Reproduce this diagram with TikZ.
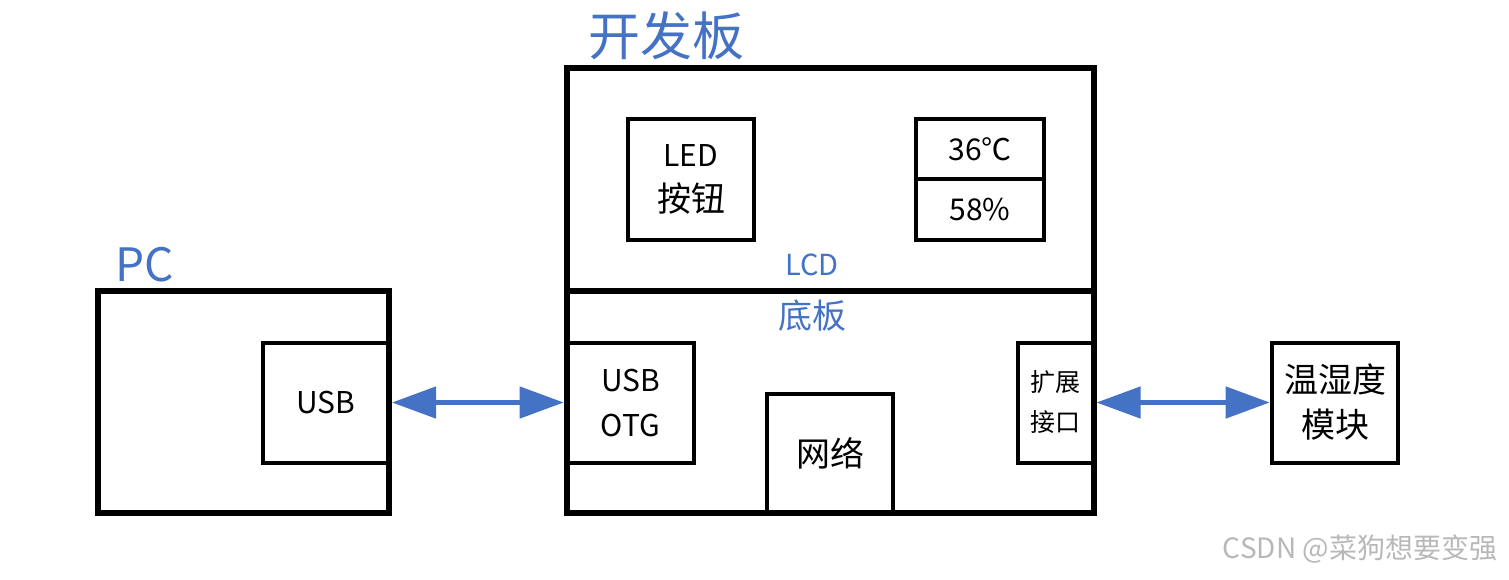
\documentclass[tikz,border=0pt]{standalone}
\usepackage{fontspec}
\setmainfont{Noto Sans CJK SC}
\usetikzlibrary{arrows.meta}
\definecolor{myblue}{HTML}{4472C4}
\begin{document}
\begin{tikzpicture}[x=1pt,y=-1pt,
  outerbox/.style={draw=black, line width=6pt, inner sep=0pt, outer sep=0pt, rectangle},
  innerbox/.style={draw=black, line width=4pt, inner sep=0pt, outer sep=0pt, rectangle, align=center},
  bluelbl/.style={text=myblue, inner sep=0pt},
  cjk/.style={font=\fontsize{34}{45}\selectfont},
  lat/.style={font=\fontsize{30}{45}\selectfont},
  twoway/.style={draw=myblue, line width=4.5pt, {Triangle[length=44pt,width=31pt]}-{Triangle[length=44pt,width=31pt]}}
]
\path[use as bounding box] (0,0) rectangle (1509,579);

% titles
\node[bluelbl, font=\fontsize{52}{60}\selectfont] (ttl) at (666,36) {开发板};
\node[bluelbl, font=\fontsize{46}{50}\selectfont] (pclbl) at (145,265) {PC};

% PC
\node[outerbox, minimum width=291.5pt, minimum height=222pt] (pc) at (243.25,402) {};
\node[innerbox, lat, minimum width=126pt, minimum height=120pt] (pcusb) at (326,402.5) {USB};

% board
\node[outerbox, minimum width=526.8pt, minimum height=222.8pt] (lcd) at (830.1,179.6) {};
\node[outerbox, minimum width=526.8pt, minimum height=222.3pt] (base) at (830.1,402.15) {};
\node[bluelbl, font=\fontsize{29}{32}\selectfont] (lcdlbl) at (812,265) {LCD};
\node[bluelbl, font=\fontsize{34}{40}\selectfont] (baselbl) at (812,316) {底板};

\node[innerbox, cjk, minimum width=126pt, minimum height=120.5pt] (led) at (691,179.3)
  {{\fontsize{30}{45}\selectfont LED}\\按钮};
\node[innerbox, lat, minimum width=128pt, minimum height=60.3pt] (temp) at (980,149.2) {36℃};
\node[innerbox, lat, minimum width=128pt, minimum height=60.3pt] (hum) at (980,209.4) {58\%};

\node[innerbox, lat, minimum width=127.6pt, minimum height=120pt] (otg) at (630.5,402.5) {USB\\OTG};
\node[innerbox, cjk, minimum width=126pt, minimum height=119pt] (net) at (830.3,453.8) {网络};
\node[innerbox, font=\fontsize{25}{40}\selectfont, minimum width=75.5pt, minimum height=120pt] (ext) at (1055.75,402.5) {扩展\\接口};

\node[innerbox, cjk, minimum width=126.6pt, minimum height=120pt] (sensor) at (1335,402.5) {温湿度\\模块};

% connectors
\draw[twoway] ([xshift=3pt]pcusb.east) -- ([xshift=-3pt]otg.west);
\draw[twoway] ([xshift=3pt]ext.east) -- ([xshift=-2pt]sensor.west);

% watermark
\node[text=black!28, font=\fontsize{28}{30}\selectfont, inner sep=0pt] (wm) at (1360,549) {CSDN @菜狗想要变强};
\end{tikzpicture}
\end{document}
